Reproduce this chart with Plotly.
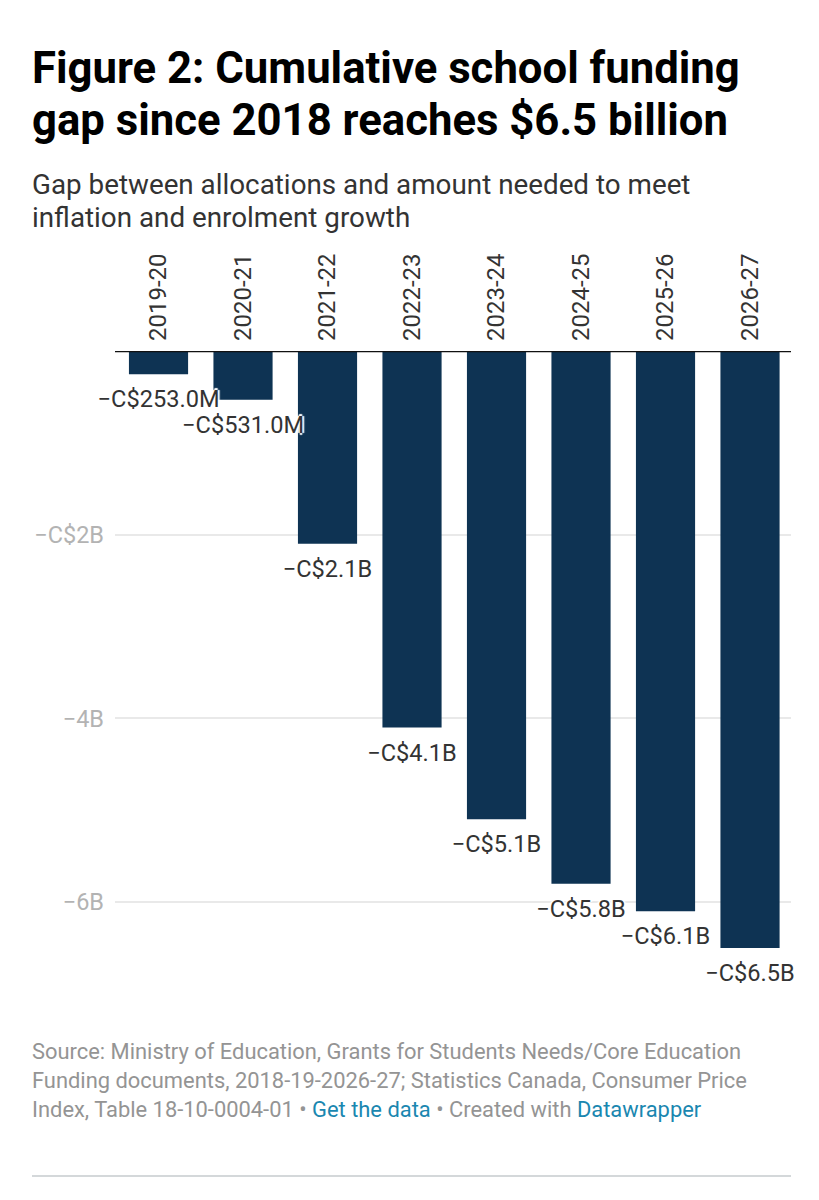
import plotly.graph_objects as go

seasons = ["2019-20", "2020-21", "2021-22", "2022-23", "2023-24", "2024-25", "2025-26", "2026-27"]
gap = [-0.253, -0.531, -2.1, -4.1, -5.1, -5.8, -6.1, -6.5]
gap_labels = ["−C$253.0M", "−C$531.0M", "−C$2.1B", "−C$4.1B", "−C$5.1B", "−C$5.8B", "−C$6.1B", "−C$6.5B"]
tick_vals = [-2, -4, -6]
tick_text = ["−C$2B", "−4B", "−6B"]

title_lines = ["Figure 2: Cumulative school funding", "gap since 2018 reaches $6.5 billion"]
subtitle_lines = ["Gap between allocations and amount needed to meet", "inflation and enrolment growth"]
LINK = "#1a87b0"
footer_lines = [
    "Source: Ministry of Education, Grants for Students Needs/Core Education",
    "Funding documents, 2018-19-2026-27; Statistics Canada, Consumer Price",
    f"Index, Table 18-10-0004-01 • <span style='color:{LINK}'>Get the data</span> • Created with "
    f"<span style='color:{LINK}'>Datawrapper</span>",
]

# the page adds an 8px body margin, so the figure is 16px smaller than the window
W = 803
H = 1184
FONT = "Roboto"
L, R, T, B = 107, 20, 343, 192
plot_w = W - L - R
plot_h = H - T - B

px_per_b = (902 - 351) / 6
y_bottom = -plot_h / px_per_b
TEXT_X = 22
RULE_X = 24


def paper_x(px):
    return (px - L) / plot_w


def paper_y(px):
    return 1 - (px - T) / plot_h


fig = go.Figure()
fig.add_trace(go.Bar(
    x=seasons,
    y=gap,
    width=0.7,
    marker=dict(color="#0e3353", line_width=0),
    hoverinfo="skip",
))
# labels as a separate trace so they sit on top of the neighbouring bars
fig.add_trace(go.Scatter(
    x=seasons,
    y=gap,
    mode="markers+text",
    marker=dict(size=23, opacity=0),
    text=gap_labels,
    textposition="bottom center",
    cliponaxis=False,
    textfont=dict(family=FONT, size=23.6, color="#333333",
                  shadow="2px 0 1px #fff, -2px 0 1px #fff, 0 2px 1px #fff, 0 -2px 1px #fff"),
))

fig.update_layout(
    width=W,
    height=H,
    autosize=False,
    paper_bgcolor="white",
    plot_bgcolor="white",
    showlegend=False,
    margin=dict(l=L, r=R, t=T, b=B),
    font=dict(family=FONT),
)
fig.update_xaxes(
    side="top",
    type="category",
    range=[-0.515, 7.485],
    tickangle=-90,
    ticks="",
    tickfont=dict(family=FONT, size=24, color="#333333"),
    showline=False,
    showgrid=False,
    ticklabelstandoff=9,
    automargin=False,
)
fig.update_yaxes(
    range=[y_bottom, 0],
    tickvals=tick_vals,
    ticktext=tick_text,
    tickfont=dict(family=FONT, size=23.5, color="#b3b3b3"),
    showgrid=True,
    gridcolor="#e9e9e9",
    gridwidth=2,
    zeroline=False,
    showline=False,
    ticks="",
    ticklabelstandoff=10,
    automargin=False,
)

# baseline on top of the bars
fig.add_shape(type="line", xref="paper", yref="y", x0=0, x1=1, y0=0, y1=0,
              line=dict(color="#111111", width=2.5), layer="above")


def add_line(text, y_px, size, color):
    fig.add_annotation(text=text, xref="paper", yref="paper",
                       x=paper_x(TEXT_X), y=paper_y(y_px), xanchor="left", yanchor="middle",
                       align="left", showarrow=False,
                       font=dict(family=FONT, size=size, color=color))


for line, y_px in zip(title_lines, [60, 112]):
    add_line(f"<b>{line}</b>", y_px, 43.7, "#000000")
for line, y_px in zip(subtitle_lines, [177, 209]):
    add_line(line, y_px, 27.8, "#333333")
for line, y_px in zip(footer_lines, [1043, 1072, 1101]):
    add_line(line, y_px, 21.9, "#949494")

# rule at the bottom of the page
fig.add_shape(type="line", xref="paper", yref="paper",
              x0=paper_x(RULE_X), x1=1, y0=paper_y(1168), y1=paper_y(1168),
              line=dict(color="#d4d8da", width=2))

fig.write_html("out.html")
